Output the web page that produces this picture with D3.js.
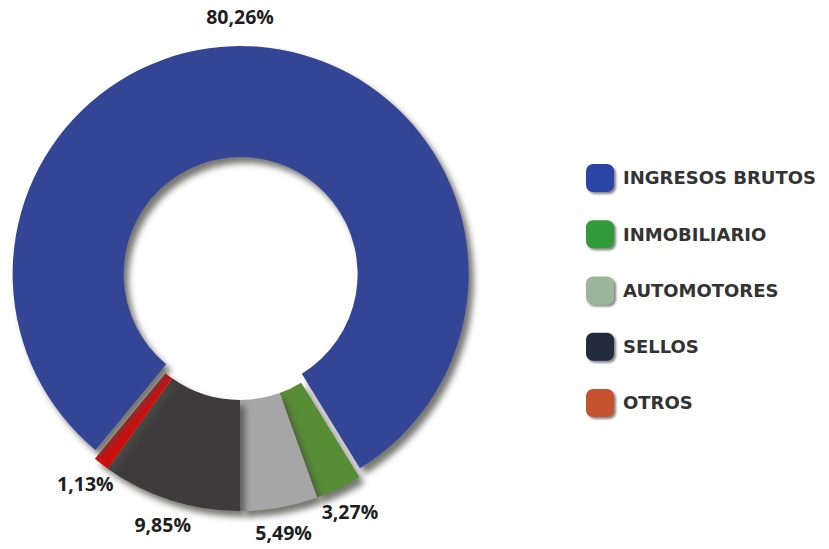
<!DOCTYPE html>
<html>
<head>
<meta charset="utf-8">
<script src="https://cdn.jsdelivr.net/npm/d3@7"></script>
<style>
  body { margin: 0; background: #fff; }
  .lbl { font-family: "Open Sans", sans-serif; font-weight: 700; font-size: 19.5px; fill: #1e1e1e; }
  .leg { font-family: "DejaVu Sans", sans-serif; font-weight: 700; font-size: 18px; fill: #333; }
</style>
</head>
<body>
<div id="chart"></div>
<script>
// data
var categories = ["INGRESOS BRUTOS", "INMOBILIARIO", "AUTOMOTORES", "SELLOS", "OTROS"];
var values = [80.26, 3.27, 5.49, 9.85, 1.13];
var labels = ["80,26%", "3,27%", "5,49%", "9,85%", "1,13%"];
var sliceColors = ["#344596", "#568d36", "#a6a6a6", "#3d3a3a", "#cc0a0a"];
var legendOrder = ["INGRESOS BRUTOS", "INMOBILIARIO", "AUTOMOTORES", "SELLOS", "OTROS"];
var legendColors = ["#2b45a6", "#329a3a", "#9db59b", "#232a3e", "#c4522e"];

var w = 829, h = 549;
var cx = 240, cy = 283;
var outerR = 228, innerR = 117;
var explode = 9;
var labelR = 254;

var data = categories.map(function(c, i) { return { cat: c, value: values[i], label: labels[i], color: sliceColors[i] }; });

var total = d3.sum(values);
// SELLOS + OTROS sit just left of the bottom, ingresos starts after them
var start = Math.PI + (values[3] + values[4]) / total * 2 * Math.PI;

var pie = d3.pie()
  .sort(null)
  .value(function(d) { return d.value; })
  .startAngle(start)
  .endAngle(start + 2 * Math.PI);

var arcs = pie(data);

var arc = d3.arc().innerRadius(innerR).outerRadius(outerR);

function unit(d) {
  var c = arc.centroid(d);
  var len = Math.sqrt(c[0] * c[0] + c[1] * c[1]);
  return [c[0] / len, c[1] / len];
}

var svg = d3.select("#chart")
  .append("svg")
  .attr("width", w)
  .attr("height", h);

var defs = svg.append("defs");
var f = defs.append("filter").attr("id", "shadow")
  .attr("x", "-20%").attr("y", "-20%").attr("width", "140%").attr("height", "140%");
f.append("feDropShadow")
  .attr("dx", 5).attr("dy", 6)
  .attr("stdDeviation", 3)
  .attr("flood-color", "#4a4a44")
  .attr("flood-opacity", 0.75);

var f2 = defs.append("filter").attr("id", "shadow2")
  .attr("x", "-30%").attr("y", "-30%").attr("width", "160%").attr("height", "160%");
f2.append("feDropShadow")
  .attr("dx", 2).attr("dy", 2)
  .attr("stdDeviation", 1.2)
  .attr("flood-color", "#333")
  .attr("flood-opacity", 0.6);

var g = svg.append("g")
  .attr("transform", "translate(" + cx + "," + cy + ")");

// small slices first, big one on top
var order = arcs.slice(1).concat([arcs[0]]);

g.selectAll("path.slice")
  .data(order)
  .enter()
  .append("path")
  .attr("class", "slice")
  .attr("d", arc)
  .attr("fill", function(d) { return d.data.color; })
  .attr("filter", "url(#shadow)")
  .attr("transform", function(d) {
    if (d.index !== 0) return null;
    var u = unit(d);
    return "translate(" + (u[0] * explode) + "," + (u[1] * explode) + ")";
  });

g.selectAll("text.lbl")
  .data(arcs)
  .enter()
  .append("text")
  .attr("class", "lbl")
  .attr("text-anchor", "middle")
  .attr("dy", "0.35em")
  .attr("x", function(d) { return d.index === 0 ? 0 : unit(d)[0] * labelR; })
  .attr("y", function(d) {
    var r = d.index === 0 ? labelR + explode + 3 : labelR;
    return unit(d)[1] * r;
  })
  .text(function(d) { return d.data.label; });

// legend
var ly = d3.scalePoint()
  .domain(legendOrder)
  .range([178, 403]);

var leg = svg.append("g");

leg.selectAll("rect")
  .data(legendOrder)
  .enter()
  .append("rect")
  .attr("x", 586)
  .attr("y", function(d) { return ly(d) - 14; })
  .attr("width", 28)
  .attr("height", 28)
  .attr("rx", 7)
  .attr("fill", function(d, i) { return legendColors[i]; })
  .attr("filter", "url(#shadow2)");

leg.selectAll("text")
  .data(legendOrder)
  .enter()
  .append("text")
  .attr("class", "leg")
  .attr("x", 623)
  .attr("y", function(d) { return ly(d); })
  .attr("dy", "0.36em")
  .text(function(d) { return d; });
</script>
</body>
</html>
